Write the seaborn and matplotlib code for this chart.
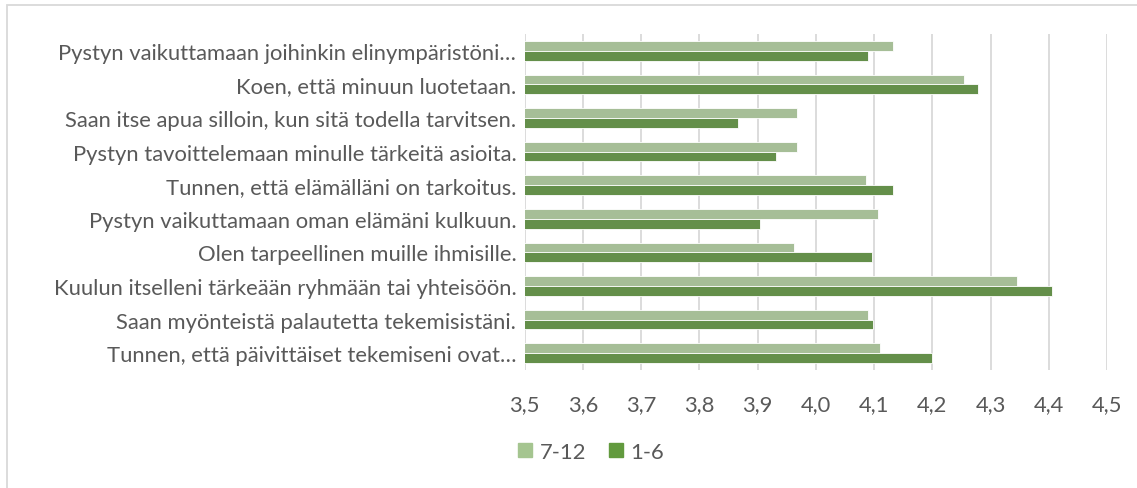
import matplotlib
matplotlib.use("Agg")
import matplotlib.pyplot as plt
import matplotlib.patches as mpatches
import seaborn as sns
import pandas as pd

categories = [
    "Pystyn vaikuttamaan joihinkin elinympäristöni…",
    "Koen, että minuun luotetaan.",
    "Saan itse apua silloin, kun sitä todella tarvitsen.",
    "Pystyn tavoittelemaan minulle tärkeitä asioita.",
    "Tunnen, että elämälläni on tarkoitus.",
    "Pystyn vaikuttamaan oman elämäni kulkuun.",
    "Olen tarpeellinen muille ihmisille.",
    "Kuulun itselleni tärkeään ryhmään tai yhteisöön.",
    "Saan myönteistä palautetta tekemisistäni.",
    "Tunnen, että päivittäiset tekemiseni ovat…",
]
series_names = ["7-12", "1-6"]
values_7_12 = [4.133, 4.255, 3.968, 3.967, 4.086, 4.106, 3.962, 4.345, 4.090, 4.110]
values_1_6 = [4.090, 4.279, 3.866, 3.931, 4.132, 3.905, 4.096, 4.405, 4.099, 4.199]
tick_values = [3.5, 3.6, 3.7, 3.8, 3.9, 4.0, 4.1, 4.2, 4.3, 4.4, 4.5]
tick_labels = ["3,5", "3,6", "3,7", "3,8", "3,9", "4,0", "4,1", "4,2", "4,3", "4,4", "4,5"]
colors = ["#A5C590", "#629A3E"]

df = pd.DataFrame({
    "category": categories * 2,
    "group": [series_names[0]] * len(categories) + [series_names[1]] * len(categories),
    "value": values_7_12 + values_1_6,
})

sns.set_theme(style="white")
plt.rcParams["font.family"] = ["Lato", "DejaVu Sans"]
text_color = "#595959"
fs = 15.8

fig = plt.figure(figsize=(11.37, 4.89), dpi=100)
ax = fig.add_axes([0.4614, 0.2413, 0.9736 - 0.4614, 0.9284 - 0.2413])

sns.barplot(data=df, y="category", x="value", hue="group", order=categories,
            hue_order=series_names, palette=colors, orient="h", width=0.58,
            edgecolor="white", linewidth=0.6, ax=ax, legend=False)

ax.set_xlim(3.5, 4.5)
ax.set_xticks(tick_values)
ax.set_xticklabels(tick_labels)
ax.set_xlabel("")
ax.set_ylabel("")
ax.grid(axis="x", color="#D9D9D9", linewidth=1.3)
ax.grid(axis="y", visible=False)
ax.set_axisbelow(True)
for s in ax.spines.values():
    s.set_visible(False)
ax.tick_params(axis="x", length=0, pad=17, labelsize=fs, labelcolor=text_color)
ax.tick_params(axis="y", length=0, pad=6, labelsize=fs, labelcolor=text_color)

handles = [mpatches.Patch(color=c, label=n) for c, n in zip(colors, series_names)]
leg = fig.legend(handles=handles, loc="center", bbox_to_anchor=(0.52, 0.074), ncol=2,
                 frameon=False, handlelength=0.65, handleheight=0.65, handletextpad=0.35,
                 columnspacing=1.0, fontsize=fs)
for t in leg.get_texts():
    t.set_color(text_color)

# chart border (left and top visible)
fig.patches.append(mpatches.Rectangle((7 / 1137, -0.1), 1.2, 1 - 6 / 489 + 0.1,
                                      transform=fig.transFigure, fill=False,
                                      edgecolor="#D9D9D9", linewidth=1.3))

fig.savefig("out.png", dpi=100)
